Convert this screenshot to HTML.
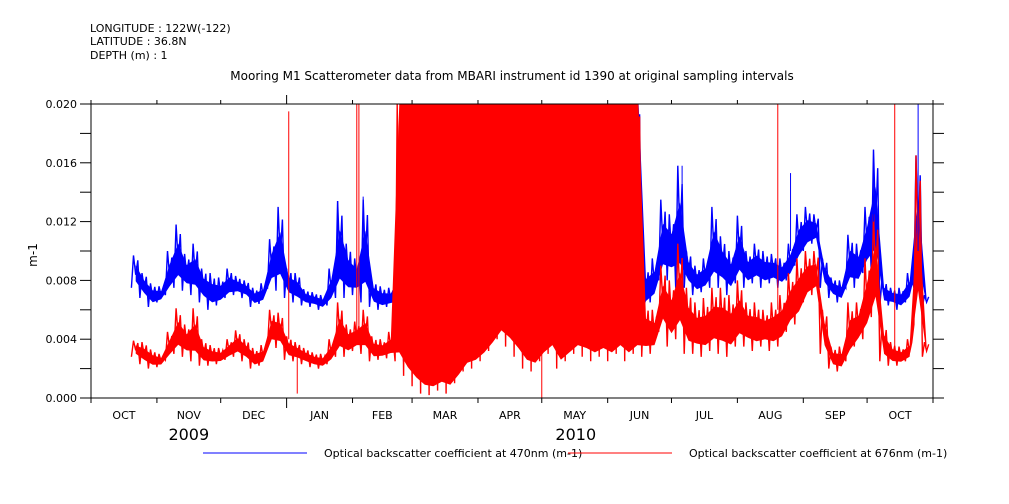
<!DOCTYPE html>
<html><head><meta charset="utf-8">
<style>
html,body{margin:0;padding:0;background:#fff;}
svg{display:block;font-family:"DejaVu Sans","Liberation Sans",sans-serif;}
text{fill:#000;}
</style></head>
<body>
<svg id="chart" width="1009" height="504" viewBox="0 0 1009 504" xmlns="http://www.w3.org/2000/svg">
<rect width="1009" height="504" fill="#fff"/>
<g font-size="11">
<text x="90" y="32">LONGITUDE : 122W(-122)</text>
<text x="90" y="45">LATITUDE : 36.8N</text>
<text x="90" y="59">DEPTH (m) : 1</text>
</g>
<text x="512" y="80" text-anchor="middle" font-size="12">Mooring M1 Scatterometer data from MBARI instrument id 1390 at original sampling intervals</text>
<text transform="translate(37,255) rotate(-90)" text-anchor="middle" font-size="12">m-1</text>
<defs><clipPath id="plotclip"><rect x="91" y="104" width="842" height="294"/></clipPath></defs>
<g id="series" clip-path="url(#plotclip)"></g>
<g id="axes"></g>
<g font-size="11">
<line x1="203" y1="453" x2="307" y2="453" stroke="#0000ff" stroke-width="1"/>
<text x="324" y="457">Optical backscatter coefficient at 470nm (m-1)</text>
<line x1="568" y1="453" x2="672" y2="453" stroke="#ff0000" stroke-width="1"/>
<text x="689" y="457">Optical backscatter coefficient at 676nm (m-1)</text>
</g>
</svg>
<script>
// bin start days (days since 1 Oct 2009), 4-day bins
const binStart = 19;
const binStep = 4;
// values in units of 1e-3 m-1
const blueLo = [7.5,6.8,6.2,6.5,7.0,7.5,7.3,7.0,6.5,6.0,6.3,6.8,7.0,6.8,6.2,6.4,7.5,7.3,6.8,6.5,6.3,6.2,6.0,6.3,6.8,6.8,7.0,6.5,6.2,6.0,6.2,6.0,
 2.5,1.8,1.3,1.2,1.5,1.3,2.0,2.8,3.0,3.5,4.2,5.0,4.5,3.8,3.0,2.8,3.5,4.0,3.0,3.5,4.0,3.8,3.5,3.8,3.5,4.0,3.5,4.0,
 6.0,6.5,8.0,8.0,7.5,7.5,7.0,7.2,7.5,7.5,7.0,7.8,7.5,7.8,7.5,7.8,7.5,8.0,9.0,10.0,10.5,7.5,6.8,6.5,7.5,7.5,8.5,8.5,6.3,6.3,6.0,6.5,7.5,6.2];
const blueHi = [9.7,8.5,7.8,7.6,10.0,11.8,9.8,10.5,8.8,8.5,8.2,8.8,8.3,8.0,7.5,7.8,10.8,13.0,8.8,8.5,7.4,7.2,7.0,8.8,13.4,10.5,9.5,13.5,8.0,7.6,7.5,9.0,
 22,22,22,22,22,22,22,22,22,22,22,22,22,22,22,22,22,22,22,22,22,22,22,22,22,22,22,22,
 9.0,9.5,13.5,12.5,15.8,10.0,9.0,9.5,13.0,11.0,10.0,12.4,10.0,10.5,10.0,9.8,9.5,10.5,12.5,13.0,12.5,9.5,8.2,8.0,11.1,10.5,13.0,16.9,8.0,7.5,7.5,8.5,16.5,7.0];
const redLo = [2.8,2.3,2.0,2.1,2.6,3.0,2.8,2.5,2.2,2.2,2.3,2.6,2.8,2.5,2.0,2.2,3.5,3.4,2.6,2.5,2.3,2.1,2.0,2.3,2.8,2.8,3.2,3.0,2.5,2.6,2.7,2.5,
 1.5,0.8,0.3,0.2,0.5,0.3,1.0,1.8,2.0,2.5,3.2,4.0,3.5,2.8,2.0,1.8,2.5,3.0,2.0,2.5,3.0,2.8,2.5,2.8,2.5,3.0,2.5,3.0,
 2.8,3.0,4.5,3.5,4.0,3.0,3.0,2.8,3.2,3.0,2.8,3.5,3.5,3.2,3.5,3.2,3.5,4.5,5.0,6.5,7.0,3.0,2.0,1.8,2.5,3.5,4.0,5.5,2.5,2.2,2.2,2.5,5.0,2.8];
const redHi = [3.9,3.8,3.3,3.0,4.5,6.1,5.0,6.1,4.0,3.6,3.4,4.0,4.6,4.0,3.4,3.6,6.0,5.8,4.2,3.8,3.4,3.1,3.0,4.0,6.5,5.0,5.2,6.0,4.2,4.0,4.5,20,
 22,22,22,22,22,22,22,22,22,22,22,22,22,22,22,22,22,22,22,22,22,22,22,22,22,22,22,22,
 6.5,6.0,9.0,8.0,10.5,7.5,6.5,6.8,7.5,7.5,7.0,8.0,6.5,6.5,6.0,6.5,7.0,8.5,9.5,10.0,10.0,6.0,3.5,3.5,6.5,6.5,9.5,12.5,5.0,3.8,3.5,4.0,16.5,3.8];
// isolated spikes
const spikeDays = [93,97,125,126,212,323,378,116,128,278,329,368,389];
const spikeVals = [19.5,0.3,20.5,20.5,0.0,20.5,20.5,13.4,13.7,15.8,15.3,16.9,20.5];
const spikeBase = [4.0,3.0,4.0,4.0,3.0,6.0,3.5,8.0,8.0,10.0,10.0,12.0,10.0];
const spikeSeries = ['r','r','r','r','r','r','r','b','b','b','b','b','b'];
const yTicks = [0,2,4,6,8,10,12,14,16,18,20];
const yTickLabels = ['0.000','','0.004','','0.008','','0.012','','0.016','','0.020'];
const monthDays = [0,31,61,92,123,151,182,212,243,273,304,335,365,396];
const monthLabels = ['OCT','NOV','DEC','JAN','FEB','MAR','APR','MAY','JUN','JUL','AUG','SEP','OCT'];
const yearLabels = ['2009','2010'];
const yearDays = [46,228];

const X0=91,X1=933,Y0=398,Y1=104;
const xs = d => X0 + d*(X1-X0)/396;
const ys = v => Y0 - v*(Y0-Y1)/20;
const NS='http://www.w3.org/2000/svg';
const series=document.getElementById('series');
const axes=document.getElementById('axes');
function mk(tag,attrs,parent){const e=document.createElementNS(NS,tag);for(const k in attrs)e.setAttribute(k,attrs[k]);parent.appendChild(e);return e;}

function band(lo,hi,color,name){
  let pts=[];
  for(let i=0;i<lo.length;i++){
    const d=binStart+i*binStep;
    pts.push(xs(d).toFixed(1)+','+ys(lo[i]).toFixed(1));
    pts.push(xs(d+1).toFixed(1)+','+ys(hi[i]).toFixed(1));
    pts.push(xs(d+2).toFixed(1)+','+ys((lo[i]*0.6+hi[i]*0.4)).toFixed(1));
    pts.push(xs(d+3).toFixed(1)+','+ys(hi[i]*0.85+lo[i]*0.15).toFixed(1));
  }
  const p=mk('polyline',{points:pts.join(' '),fill:'none',stroke:color,'stroke-width':'1.4','stroke-linejoin':'miter'},series);
  
  
  const topOf = i => hi[i]>=20 ? hi[i] : hi[i]-(hi[i]-lo[i])*0.3;
  const botOf = i => hi[i]>=20 ? lo[i]+0.6 : lo[i]+(hi[i]-lo[i])*0.2;
  let poly=[];
  for(let i=0;i<lo.length;i++){const d=binStart+i*binStep+binStep/2;poly.push(xs(d).toFixed(1)+','+ys(botOf(i)).toFixed(1));}
  for(let i=lo.length-1;i>=0;i--){const d=binStart+i*binStep+binStep/2;poly.push(xs(d).toFixed(1)+','+ys(topOf(i)).toFixed(1));}
  const f=mk('polygon',{points:poly.join(' '),fill:color,stroke:'none'},series);
  
  
}
band(blueLo,blueHi,'#0000ff','series-470nm');
band(redLo,redHi,'#ff0000','series-676nm');
for(let i=0;i<spikeDays.length;i++){
  const c=spikeSeries[i]==='r'?'#ff0000':'#0000ff';
  const l=mk('line',{x1:xs(spikeDays[i]),x2:xs(spikeDays[i]),y1:ys(spikeBase[i]),y2:ys(spikeVals[i]),stroke:c,'stroke-width':'1'},series);
  
  
}
// frame
const fr=mk('rect',{x:X0,y:Y1,width:X1-X0,height:Y0-Y1,fill:'none',stroke:'#000','stroke-width':'1'},axes);


// y ticks
yTicks.forEach((v,i)=>{
  const y=ys(v);
  const t1=mk('line',{x1:X0-11,x2:X0,y1:y,y2:y,stroke:'#000'},axes);
  
  
  const t2=mk('line',{x1:X1,x2:X1+11,y1:y,y2:y,stroke:'#000'},axes);
  
  
  if(yTickLabels[i]){
    const t=mk('text',{x:X0-14,y:y+4,'text-anchor':'end','font-size':'11'},axes);
    t.textContent=yTickLabels[i];
    
    
  }
});
// x ticks
monthDays.forEach((d,i)=>{
  const x=xs(d);
  const big=(i===3);
  const a=mk('line',{x1:x,x2:x,y1:Y0,y2:Y0+(big?10:5),stroke:'#000'},axes);
  
  
  const b=mk('line',{x1:x,x2:x,y1:Y1-(big?9:4),y2:Y1,stroke:'#000'},axes);
  
  
});
monthLabels.forEach((m,i)=>{
  const x=(xs(monthDays[i])+xs(monthDays[i+1]))/2;
  const t=mk('text',{x:x,y:419,'text-anchor':'middle','font-size':'11'},axes);
  t.textContent=m;
  
  
});
yearLabels.forEach((yl,i)=>{
  const t=mk('text',{x:xs(yearDays[i]),y:440,'text-anchor':'middle','font-size':'16'},axes);
  t.textContent=yl;
  
  
});
</script>
</body></html>
